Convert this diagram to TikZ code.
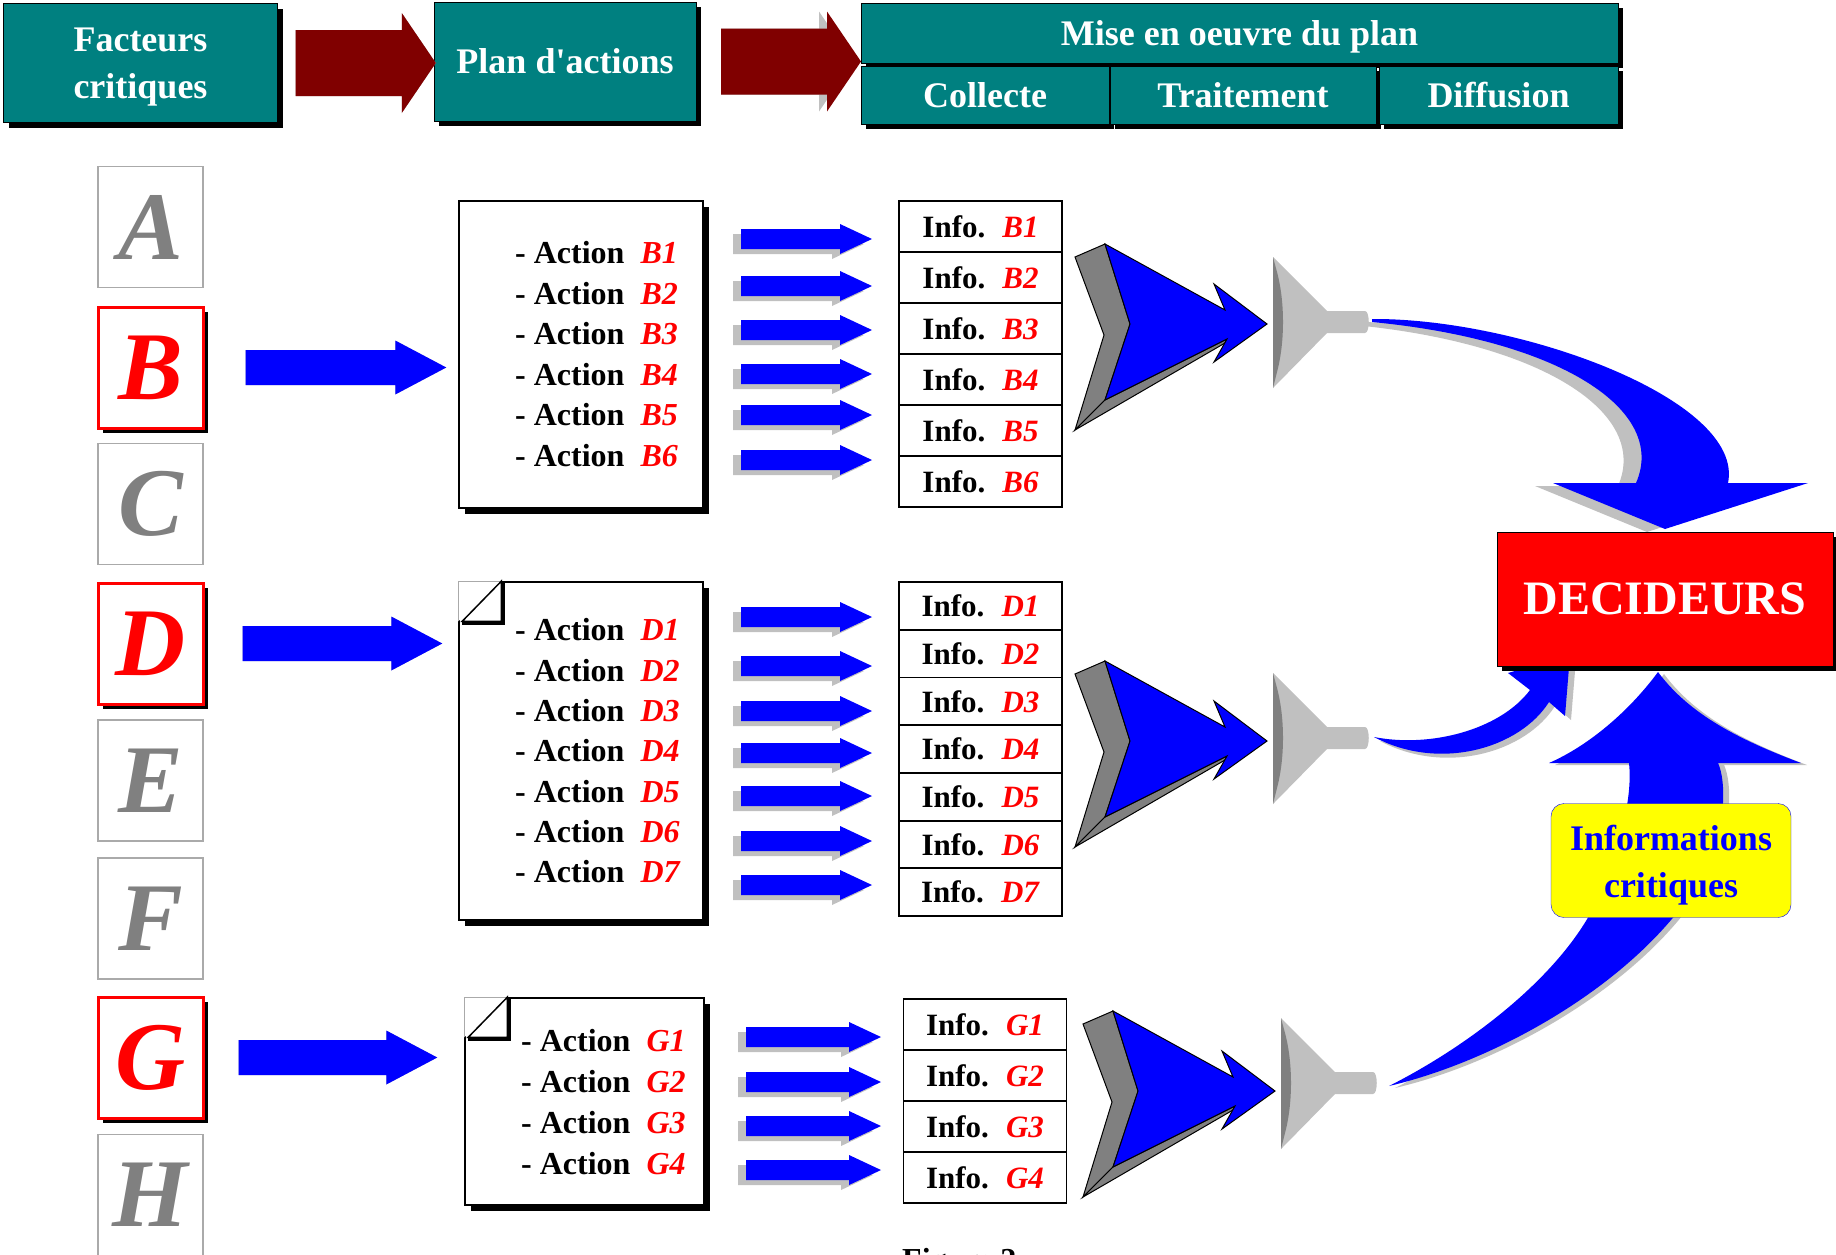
\documentclass[tikz,border=0pt]{standalone}
\usepackage{fontspec}
\setmainfont{Liberation Serif}
\usetikzlibrary{calc,shadows}
\definecolor{hdrteal}{RGB}{0,128,128}
\definecolor{hdrred}{RGB}{128,0,0}
\definecolor{flowblue}{RGB}{0,0,255}
\definecolor{shadegray}{RGB}{192,192,192}
\definecolor{midgray}{RGB}{128,128,128}
\definecolor{boxgray}{RGB}{170,170,170}
\definecolor{notegold}{RGB}{255,255,0}

% flat 3d block arrow: fill, side, tail, tip, half body, half head, head length
\newcommand\blockarrow[7]{%
	\foreach \dx/\dy/\fc in {-8/-5/#2,0/0/#1}{
		\fill[fill=\fc,xshift=\dx pt,yshift=\dy pt] let \p1=(#3), \p2=(#4) in
			(\x1,\y1+#5) -- (\x2-#7,\y1+#5) -- (\x2-#7,\y1+#6) -- (\x2,\y1)
			-- (\x2-#7,\y1-#6) -- (\x2-#7,\y1-#5) -- (\x1,\y1-#5) -- cycle;
	}}
\newcommand\foldcorner[1]{%
	\fill[white] (#1.north west) -- ++(43,0) -- ++(-43,40) -- cycle;
	\draw[boxgray,line width=1pt] (#1.north west) -- ++(43,0) (#1.north west) -- ++(0,40);
	\draw[line width=1.5pt,fill=white] ([xshift=43pt]#1.north west) -- ++(-39,40) -- ++(39,0) -- cycle;
	\draw[line width=3pt] ([xshift=4pt,yshift=-42pt]#1.north west) -- ++(41,0) -- ++(0,-41);}

\tikzset{
	hdrbox/.style={draw=black,fill=hdrteal,text=white,align=center,inner sep=0pt,
		font=\fontsize{36}{47}\selectfont\bfseries,
		drop shadow={shadow xshift=5pt,shadow yshift=-5pt,opacity=1,fill=black}},
	letterbox/.style={draw=boxgray,line width=1.5pt,fill=white,inner sep=0pt,
		minimum width=105pt,minimum height=121pt,text=midgray,
		font=\fontsize{97}{97}\selectfont\bfseries\itshape},
	keybox/.style={letterbox,draw=red,line width=3pt,text=red,
		drop shadow={shadow xshift=5pt,shadow yshift=-5pt,opacity=1,fill=black}},
	planbox/.style={draw=black,line width=1.5pt,fill=white,minimum width=244pt,
		drop shadow={shadow xshift=6pt,shadow yshift=-6pt,opacity=1,fill=black}},
	acttext/.style={anchor=west,inner sep=0pt,font=\fontsize{32}{32}\selectfont\bfseries},
	inforow/.style={draw=black,line width=1.8pt,fill=white,inner sep=0pt,
		minimum width=163pt,minimum height=51pt,font=\fontsize{31}{31}\selectfont\bfseries},
	mergearrow/.pic={
		\filldraw[fill=midgray,draw=black,line width=1pt] (-192,-67) -- (-162,-80) -- (-137,0) -- (-162,76) -- (-192,106) -- (-163,11) -- cycle;
		\filldraw[fill=midgray,draw=black,line width=1pt] (-192,106) -- (-42,19) -- (-40,15) -- (-162,76) -- cycle;
		\filldraw[fill=flowblue,draw=black,line width=1pt] (-162,-80) -- (-42,-14) -- (-53,-40) -- (0,0) -- (-53,38) -- (-40,15) -- (-162,76) -- (-137,0) -- cycle;
	},
	funnel/.pic={
		\fill[shadegray] (0,-65) -- (54,-11) -- (92,-11) .. controls (97,-11) and (97,11) .. (92,11) -- (54,11) -- (0,66) -- cycle;
		\fill[midgray] (0,-65) -- (4,-50) .. controls (12,-20) and (12,20) .. (4,50) -- (0,66) -- cycle;
	}
}

\begin{document}
\begin{tikzpicture}[x=1pt,y=-1pt]
	\useasboundingbox (0,0) rectangle (1836,1254);
	% header
	\node[hdrbox,minimum width=274pt,minimum height=119pt] (factors) at (140.5,63) {\rule{0pt}{31pt}Facteurs\\critiques};
	\node[hdrbox,minimum width=262pt,minimum height=119pt] (plan) at (565,61.5) {Plan d\textquotesingle actions};
	\node[hdrbox,minimum width=757pt,minimum height=60pt,text depth=0pt] (mise) at (1239.5,33) {Mise en oeuvre du plan};
	\node[hdrbox,minimum width=248pt,minimum height=58pt] (collecte) at (985,95) {Collecte};
	\node[hdrbox,minimum width=266pt,minimum height=58pt] (traitement) at (1243,95) {Traitement};
	\node[hdrbox,minimum width=239pt,minimum height=58pt] (diffusion) at (1498.5,95) {Diffusion};
	\blockarrow{hdrred}{shadegray}{[xshift=18pt]factors.east}{[xshift=2pt]plan.west}{33pt}{50pt}{34pt}
	\blockarrow{hdrred}{shadegray}{[xshift=25pt]plan.east}{861,60}{33pt}{50pt}{34pt}

	% critical factors
	\foreach \l/\yy in {A/227,C/504,E/780.5,F/918.5,H/1195}
		\node[letterbox] (fac\l) at (150.5,\yy) {\l};
	\foreach \l/\yy in {B/367.5,D/643.5,G/1057.5}
		\node[keybox] (fac\l) at (150.5,\yy) {\l};

	% action plans
	\node[planbox,minimum height=307pt] (planB) at (581,354.5) {};
	\node[planbox,minimum height=338pt] (planD) at (581,751) {};
	\node[planbox,minimum width=239pt,minimum height=207pt] (planG) at (584.5,1101.5) {};
	\foldcorner{planD}
	\foldcorner{planG}
	\blockarrow{flowblue}{shadegray}{[xshift=41pt]facB.east}{[xshift=-12pt]planB.west}{17.5pt}{27pt}{51pt}
	\blockarrow{flowblue}{shadegray}{[xshift=38pt]facD.east}{[xshift=-16pt]planD.west}{17.5pt}{27pt}{51pt}
	\blockarrow{flowblue}{shadegray}{[xshift=34pt]facG.east}{[xshift=-27pt]planG.west}{17.5pt}{27pt}{51pt}
	\foreach \i in {1,...,6}
		\node[acttext] (actB\i) at (515,{253+40.5*(\i-1)}) {- Action\hspace{0.5em}\textcolor{red}{\textit{B\i}}};
	\foreach \i in {1,...,7}
		\node[acttext] (actD\i) at (515,{630+40.3*(\i-1)}) {- Action\hspace{0.5em}\textcolor{red}{\textit{D\i}}};
	\foreach \i in {1,...,4}
		\node[acttext] (actG\i) at (521,{1041+40.7*(\i-1)}) {- Action\hspace{0.5em}\textcolor{red}{\textit{G\i}}};

	\foreach \yy in {239,286,330,374,415,460,617,666,711,753,796,841,885}{
		\blockarrow{flowblue}{shadegray}{741,\yy}{872,\yy}{10pt}{15pt}{32pt}
	}
	\foreach \yy in {1037,1082,1126,1170}{
		\blockarrow{flowblue}{shadegray}{746,\yy}{881,\yy}{10pt}{15pt}{32pt}
	}

	% collected information
	\foreach \i in {1,...,6}
		\node[inforow] (infB\i) at (980.5,{226.5+51*(\i-1)}) {Info.\hspace{0.55em}\textcolor{red}{\textit{B\i}}};
	\foreach \i in {1,...,7}
		\node[inforow,minimum height=47.7pt] (infD\i) at (980.5,{606+47.7*(\i-1)}) {Info.\hspace{0.55em}\textcolor{red}{\textit{D\i}}};
	\foreach \i in {1,...,4}
		\node[inforow] (infG\i) at (985,{1024.5+51*(\i-1)}) {Info.\hspace{0.55em}\textcolor{red}{\textit{G\i}}};

	\pic at (1267,324) {mergearrow};
	\pic at (1267,741) {mergearrow};
	\pic at (1275,1091) {mergearrow};
	\pic at (1273,322) {funnel};
	\pic at (1273,738) {funnel};
	\pic at (1281,1083) {funnel};

	% flows to the deciders
	\foreach \sx/\sy/\fc in {-18/-3/shadegray,0/0/flowblue}
		\fill[fill=\fc,xshift=\sx pt,yshift=\sy pt] (1372,319) .. controls (1520,318) and (1745,400) .. (1728,483)
			-- (1808,483) -- (1665,529) -- (1553,483) -- (1636,483)
			.. controls (1668,410) and (1560,340) .. (1372,322) -- cycle;
	\foreach \sx/\sy/\fc in {6/-4/shadegray,0/0/flowblue}
		\fill[fill=\fc,xshift=\sx pt,yshift=\sy pt] (1374,737) .. controls (1430,748) and (1500,730) .. (1530,690)
			-- (1508,673) -- (1570,655) -- (1565,716) -- (1549,702)
			.. controls (1520,748) and (1440,772) .. (1374,737) -- cycle;
	\foreach \sx/\sy/\fc in {6/-2/shadegray,0/0/flowblue}
		\fill[fill=\fc,xshift=\sx pt,yshift=\sy pt] (1389,1086) .. controls (1480,1040) and (1580,960) .. (1605,880)
			.. controls (1625,830) and (1632,790) .. (1629,763)
			-- (1549,763) .. controls (1590,745) and (1630,710) .. (1658,672)
			.. controls (1690,715) and (1740,740) .. (1801,763)
			-- (1718,763) .. controls (1726,780) and (1728,830) .. (1700,880)
			.. controls (1640,980) and (1500,1060) .. (1389,1086) -- cycle;

	\node[draw=black,fill=red,text=white,inner sep=0pt,minimum width=336pt,minimum height=134pt,
		font=\fontsize{48}{48}\selectfont\bfseries,
		drop shadow={shadow xshift=5pt,shadow yshift=-5pt,opacity=1,fill=black}] (deciders) at (1665,599) {DECIDEURS};
	\node[draw=flowblue,fill=notegold,rounded corners=13pt,text=flowblue,align=center,inner sep=0pt,
		minimum width=240pt,minimum height=114pt,font=\fontsize{36}{47}\selectfont\bfseries] (critical) at (1671,860.5) {\rule{0pt}{35pt}Informations\\critiques};

	\begin{scope}
		\clip (0,0) rectangle (1836,1254);
		\node[anchor=base west,inner sep=0pt,font=\fontsize{32}{32}\selectfont\bfseries] (figcap) at (902,1270) {Figure 2};
	\end{scope}
\end{tikzpicture}
\end{document}
